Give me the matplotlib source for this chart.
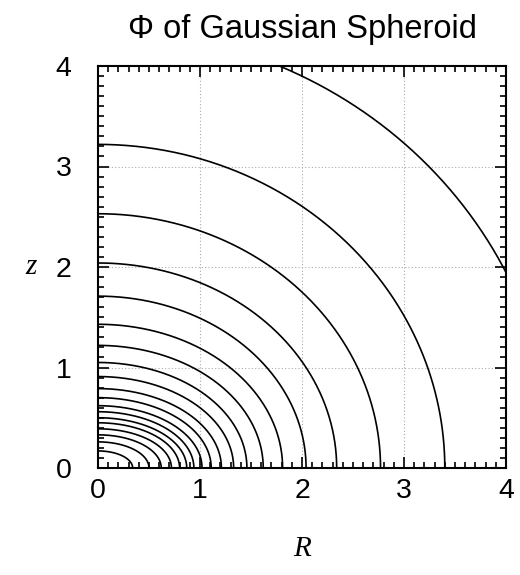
import numpy as np
import matplotlib
matplotlib.use("Agg")
import matplotlib.pyplot as plt
from matplotlib.ticker import MultipleLocator

# Contour intercepts (outer -> inner)
R_intercepts = [4.47, 3.40, 2.77, 2.34, 2.04, 1.81, 1.62, 1.46, 1.33, 1.21,
                1.11, 1.02, 0.94, 0.87, 0.80, 0.72, 0.62, 0.50, 0.34]
z_intercepts = [4.36, 3.22, 2.53, 2.04, 1.71, 1.43, 1.22, 1.05, 0.91, 0.79,
                0.70, 0.62, 0.56, 0.50, 0.45, 0.39, 0.33, 0.26, 0.17]
major_ticks = [0, 1, 2, 3, 4]
title = "\u03a6 of Gaussian Spheroid"

plt.rcParams['font.family'] = ['Liberation Sans', 'DejaVu Sans']

fig = plt.figure(figsize=(5.2, 5.75), dpi=100)
ax = fig.add_axes([98/520, 107/575, 408/520, 402/575])

theta = np.linspace(0, np.pi/2, 400)
for a, b in zip(R_intercepts, z_intercepts):
    ax.plot(a*np.cos(theta), b*np.sin(theta), color='black', lw=1.2,
            solid_capstyle='butt')

ax.set_xlim(0, 4)
ax.set_ylim(0, 4)
ax.set_xticks(major_ticks)
ax.set_yticks(major_ticks)
ax.xaxis.set_minor_locator(MultipleLocator(0.1))
ax.yaxis.set_minor_locator(MultipleLocator(0.1))
ax.tick_params(which='both', direction='in', top=True, right=True,
               width=1.2, colors='black')
ax.tick_params(which='major', length=8, labelsize=20.5)
ax.tick_params(which='minor', length=4)
ax.tick_params(axis='x', which='major', pad=7)
ax.tick_params(axis='y', which='major', pad=19)
ax.grid(True, which='major', color='#aaaaaa', linestyle=(0, (1, 2)), lw=0.8)
for s in ax.spines.values():
    s.set_linewidth(1.5)

ax.set_xlabel("R", fontsize=21, family='Liberation Serif', style='italic',
              labelpad=23)
ax.set_ylabel("z", fontsize=21, family='Liberation Serif', style='italic',
              rotation=0, labelpad=18, va='center')
ax.set_title(title, fontsize=23.5, pad=20)

fig.savefig("out.png", dpi=100)
